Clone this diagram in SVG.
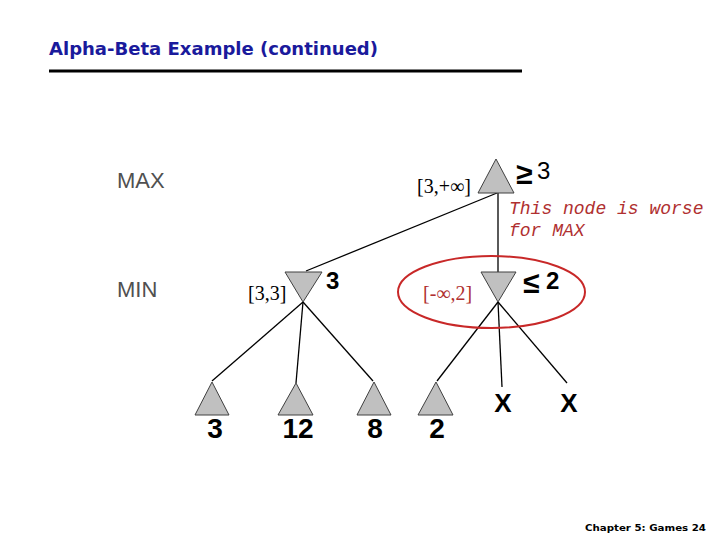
<svg xmlns="http://www.w3.org/2000/svg" width="720" height="540" viewBox="0 0 720 540">
<style>
.tri{fill:#c0c0c0;stroke:#404040;stroke-width:1}
.edge{stroke:#000;stroke-width:1.3;fill:none}
.lvl{font-family:"Liberation Sans",Arial,sans-serif;font-size:22px;fill:#505050}
.num{font-family:"Liberation Sans",Arial,sans-serif;font-weight:bold;fill:#000}
.iv{font-family:"Liberation Serif","Times New Roman",serif;font-size:20px;fill:#000}
.red{fill:#b03030}
.note{font-family:"Liberation Mono","Courier New",monospace;font-style:italic;font-size:18px;fill:#b03030}
</style>
<rect width="720" height="540" fill="#fff"/>
<text x="49" y="55" font-family="DejaVu Sans,Verdana,sans-serif" font-weight="bold" font-size="17" fill="#1a1a9c" textLength="329" lengthAdjust="spacingAndGlyphs">Alpha-Beta Example (continued)</text>
<rect x="49" y="69.5" width="473" height="3" fill="#000"/>
<text class="lvl" x="117" y="188">MAX</text>
<text class="lvl" x="117" y="297">MIN</text>
<g id="connectors">
<line class="edge" x1="497" y1="193" x2="306" y2="271"/>
<line class="edge" x1="498" y1="193" x2="498" y2="272"/>
<line class="edge" x1="303" y1="302" x2="212" y2="381"/>
<line class="edge" x1="303" y1="302" x2="296" y2="383"/>
<line class="edge" x1="303" y1="302" x2="373" y2="381"/>
<line class="edge" x1="498" y1="302" x2="437" y2="381"/>
<line class="edge" x1="498" y1="302" x2="502" y2="387"/>
<line class="edge" x1="498" y1="302" x2="567" y2="383"/>
</g>
<g id="root">
<polygon class="tri" points="496,159 478,193 514,193"/>
<text class="num" x="516" y="184" font-size="30">≥</text>
<text x="537" y="179" font-family="Liberation Sans,Arial,sans-serif" font-size="24" fill="#000">3</text>
<text class="iv" x="417" y="193">[3,+∞]</text>
</g>
<g id="min-left">
<polygon class="tri" points="285,272 322,272 303,302"/>
<text class="num" x="326" y="289" font-size="24">3</text>
<text class="iv" x="248" y="300">[3,3]</text>
</g>
<g id="min-right">
<polygon class="tri" points="481,272 516,272 498,302"/>
<text class="num" x="523" y="293" font-size="30">≤</text>
<text class="num" x="546" y="289" font-size="24">2</text>
<text class="iv red" x="423" y="300">[-∞,2]</text>
<ellipse cx="491.5" cy="292" rx="93.5" ry="36" fill="none" stroke="#c82828" stroke-width="2"/>
</g>
<g id="note">
<text class="note" x="509" y="214">This node is worse</text>
<text class="note" x="509" y="236">for MAX</text>
</g>
<g id="leaf-3">
<polygon class="tri" points="212,382 195,415 229,415"/>
<text class="num" x="215" y="438" font-size="28" text-anchor="middle">3</text>
</g>
<g id="leaf-12">
<polygon class="tri" points="296,383 278,415 313,415"/>
<text class="num" x="298" y="438" font-size="28" text-anchor="middle">12</text>
</g>
<g id="leaf-8">
<polygon class="tri" points="374,382 357,415 391,415"/>
<text class="num" x="375" y="438" font-size="28" text-anchor="middle">8</text>
</g>
<g id="leaf-2">
<polygon class="tri" points="436,382 418,415 453,415"/>
<text class="num" x="437" y="438" font-size="28" text-anchor="middle">2</text>
</g>
<g id="pruned-1">
<text class="num" x="503" y="412" font-size="26" text-anchor="middle">X</text>
</g>
<g id="pruned-2">
<text class="num" x="569" y="412" font-size="26" text-anchor="middle">X</text>
</g>
<text x="585" y="531" font-family="DejaVu Sans,Verdana,sans-serif" font-weight="bold" font-size="8" fill="#000" textLength="121" lengthAdjust="spacingAndGlyphs">Chapter 5: Games 24</text>
</svg>
